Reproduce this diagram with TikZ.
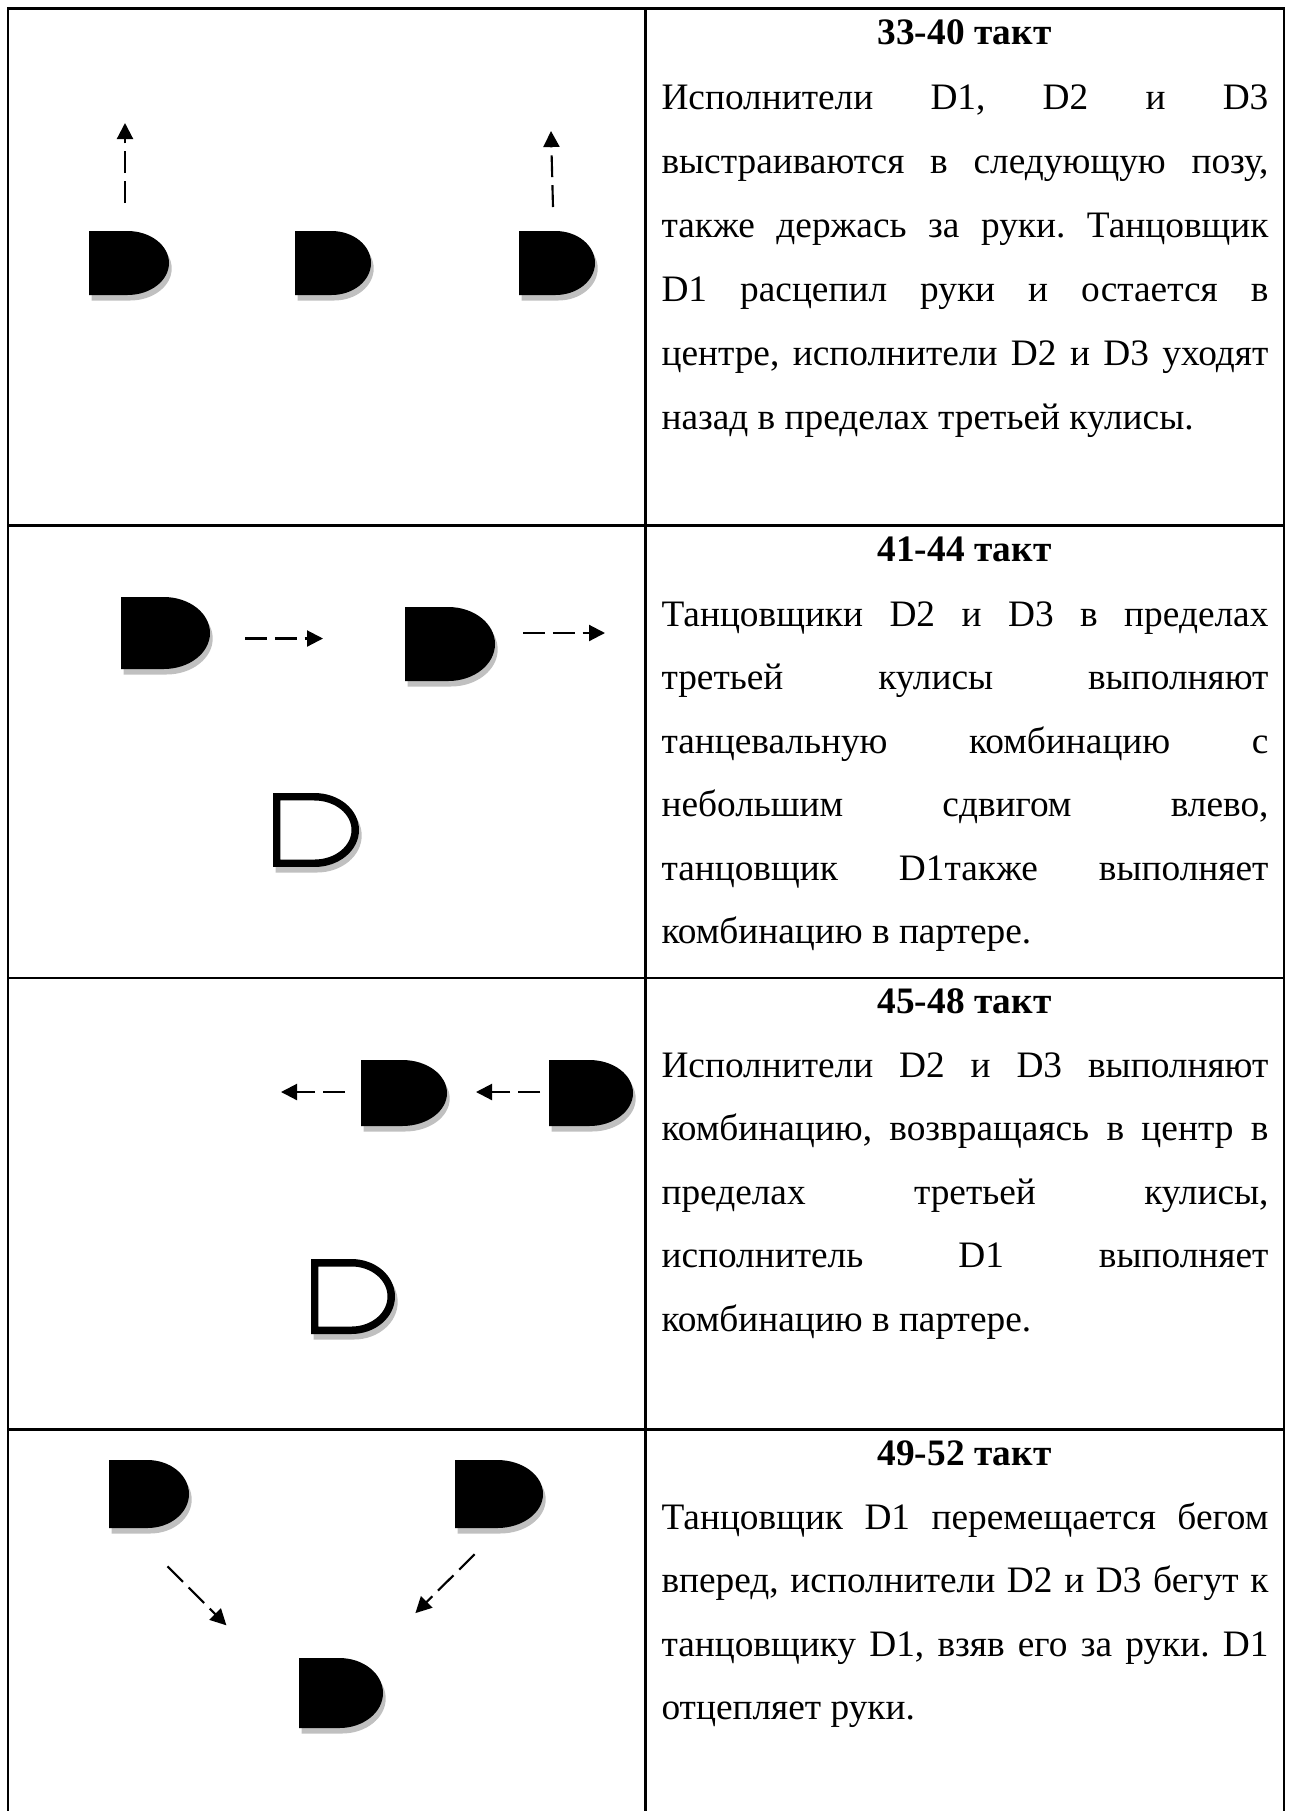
\documentclass[tikz,border=0pt]{standalone}
\usepackage{fontspec}
\setmainfont{Liberation Serif}
\usetikzlibrary{arrows.meta}
\definecolor{shd}{HTML}{C0C0C0}
\frenchspacing
\newcommand{\dpath}[5]{%
  \pgfmathsetmacro{\pxa}{#2}\pgfmathsetmacro{\pya}{#3}%
  \pgfmathsetmacro{\pxb}{#4}\pgfmathsetmacro{\pyb}{#5}%
  \pgfmathsetmacro{\prx}{0.52*(\pxb-\pxa)}%
  \pgfmathsetmacro{\pxs}{\pxb-\prx}%
  \pgfmathsetmacro{\pkx}{\pxs+0.5523*\prx}%
  \pgfmathsetmacro{\pym}{(\pya+\pyb)/2}%
  \pgfmathsetmacro{\pky}{0.5523*(\pyb-\pya)/2}%
  \pgfmathsetmacro{\pyu}{\pym-\pky}%
  \pgfmathsetmacro{\pyd}{\pym+\pky}%
  \path[#1] (\pxa,\pya) -- (\pxs,\pya) .. controls (\pkx,\pya) and (\pxb,\pyu) .. (\pxb,\pym)
    .. controls (\pxb,\pyd) and (\pkx,\pyb) .. (\pxs,\pyb) -- (\pxa,\pyb) -- cycle;%
}
% filled dancer: name, x0, y0, x1, y1
\newcommand{\dancerF}[5]{%
  \pgfmathsetmacro{\dW}{#4-#2}\pgfmathsetmacro{\dH}{#5-#3}%
  \node[dancerbox, minimum width=\dW*0.375pt, minimum height=\dH*0.375pt] (#1) at ({(#2+#4)/2},{(#3+#5)/2}) {};%
  \dpath{shadowfill}{#2+2.7}{#3+5.5}{#4+2.7}{#5+5.5}%
  \dpath{dfill}{#2}{#3}{#4}{#5}%
}
% hollow dancer: name, x0, y0, x1, y1 (outer box)
\newcommand{\dancerH}[5]{%
  \pgfmathsetmacro{\dW}{#4-#2}\pgfmathsetmacro{\dH}{#5-#3}%
  \node[dancerbox, minimum width=\dW*0.375pt, minimum height=\dH*0.375pt] (#1) at ({(#2+#4)/2},{(#3+#5)/2}) {};%
  \dpath{shadowfill}{#2+2.7}{#3+5.5}{#4+2.7}{#5+5.5}%
  \dpath{dhollow}{#2+3.75}{#3+3.75}{#4-3.75}{#5-3.75}%
}
\begin{document}
\begin{tikzpicture}[x=0.375pt,y=-0.375pt,
  dancerbox/.style={rectangle,inner sep=0pt,draw=none},
  shadowfill/.style={fill=shd},
  dfill/.style={fill=black},
  dhollow/.style={fill=white,draw=black,line width=2.8pt},
  grid/.style={line width=0.85pt,draw=black},
  move/.style={line width=0.8pt,dash pattern=on 8.2pt off 3pt,-{Triangle[length=6pt,width=6pt]}},
  txt/.style={inner sep=0pt,anchor=base west,font=\fontsize{14pt}{24pt}\selectfont},
  hdr/.style={inner sep=0pt,anchor=base,font=\fontsize{14pt}{24pt}\selectfont\bfseries}]
\useasboundingbox (0,0) rectangle (1291,1811);
% table grid
\draw[grid] (8,1811) -- (8,8.5) -- (1284,8.5) -- (1284,1811);
\draw[grid] (645.5,8.5) -- (645.5,1811);
\draw[grid] (8,525.5) -- (1284,525.5);
\draw[grid] (8,978) -- (1284,978);
\draw[grid] (8,1429.5) -- (1284,1429.5);

% ---------- row 1 ----------
\dancerF{r1a}{89}{231}{169}{295}
\dancerF{r1b}{295}{231}{371}{295}
\dancerF{r1c}{519}{231}{595}{295}
\coordinate (a1s) at (125,203); \coordinate (a1e) at (125,123);
\coordinate (a2s) at (553,207); \coordinate (a2e) at (551,131);
\draw[move] (a1s) -- (a1e);
\draw[move] (a2s) -- (a2e);
\node[hdr] (h1) at (964.5,44.5) {33-40 такт};
\node[txt] (r1l1) at (661,109) {\makebox[227.6pt][s]{Исполнители D1, D2 и D3}};
\node[txt] (r1l2) at (661,173) {\makebox[227.6pt][s]{выстраиваются в следующую позу,}};
\node[txt] (r1l3) at (661,237) {\makebox[227.6pt][s]{также держась за руки. Танцовщик}};
\node[txt] (r1l4) at (661,301) {\makebox[227.6pt][s]{D1 расцепил руки и остается в}};
\node[txt] (r1l5) at (661,365) {\makebox[227.6pt][s]{центре, исполнители D2 и D3 уходят}};
\node[txt] (r1l6) at (661,429) {назад в пределах третьей кулисы.};

% ---------- row 2 ----------
\dancerF{r2a}{121}{597}{210}{669}
\dancerF{r2b}{405}{607}{495}{681}
\dancerH{r2c}{273}{793}{359}{867}
\coordinate (a3s) at (245,638.5); \coordinate (a3e) at (323,638.5);
\coordinate (a4s) at (523,633); \coordinate (a4e) at (605,633);
\draw[move] (a3s) -- (a3e);
\draw[move] (a4s) -- (a4e);
\node[hdr] (h2) at (964.5,561.5) {41-44 такт};
\node[txt] (r2l1) at (661,626) {\makebox[227.6pt][s]{Танцовщики D2 и D3 в пределах}};
\node[txt] (r2l2) at (661,689.5) {\makebox[227.6pt][s]{третьей кулисы выполняют}};
\node[txt] (r2l3) at (661,753) {\makebox[227.6pt][s]{танцевальную комбинацию с}};
\node[txt] (r2l4) at (661,816.5) {\makebox[227.6pt][s]{небольшим сдвигом влево,}};
\node[txt] (r2l5) at (661,880) {\makebox[227.6pt][s]{танцовщик D1также выполняет}};
\node[txt] (r2l6) at (661,943.5) {комбинацию в партере.};

% ---------- row 3 ----------
\dancerF{r3a}{361}{1060}{447}{1126}
\dancerF{r3b}{549}{1060}{633}{1126}
\dancerH{r3c}{311}{1259}{395}{1334}
\coordinate (a5s) at (345,1092); \coordinate (a5e) at (281,1092);
\coordinate (a6s) at (540,1092); \coordinate (a6e) at (476,1092);
\draw[move] (a5s) -- (a5e);
\draw[move] (a6s) -- (a6e);
\node[hdr] (h3) at (964.5,1013) {45-48 такт};
\node[txt] (r3l1) at (661,1077) {\makebox[227.6pt][s]{Исполнители D2 и D3 выполняют}};
\node[txt] (r3l2) at (661,1140.5) {\makebox[227.6pt][s]{комбинацию, возвращаясь в центр в}};
\node[txt] (r3l3) at (661,1204) {\makebox[227.6pt][s]{пределах третьей кулисы,}};
\node[txt] (r3l4) at (661,1267.5) {\makebox[227.6pt][s]{исполнитель D1 выполняет}};
\node[txt] (r3l5) at (661,1331) {комбинацию в партере.};

% ---------- row 4 ----------
\dancerF{r4a}{109}{1460}{189}{1528}
\dancerF{r4b}{455}{1460}{543}{1528}
\dancerF{r4c}{299}{1658}{383}{1728}
\coordinate (a7s) at (167.5,1566.4); \coordinate (a7e) at (226.4,1625.3);
\coordinate (a8s) at (474.7,1554.2); \coordinate (a8e) at (415.4,1613.1);
\draw[move] (a7s) -- (a7e);
\draw[move] (a8s) -- (a8e);
\node[hdr] (h4) at (964.5,1465) {49-52 такт};
\node[txt] (r4l1) at (661,1529) {\makebox[227.6pt][s]{Танцовщик D1 перемещается бегом}};
\node[txt] (r4l2) at (661,1592.5) {\makebox[227.6pt][s]{вперед, исполнители D2 и D3 бегут к}};
\node[txt] (r4l3) at (661,1656) {\makebox[227.6pt][s]{танцовщику D1, взяв его за руки. D1}};
\node[txt] (r4l4) at (661,1719.5) {отцепляет руки.};
\end{tikzpicture}
\end{document}
